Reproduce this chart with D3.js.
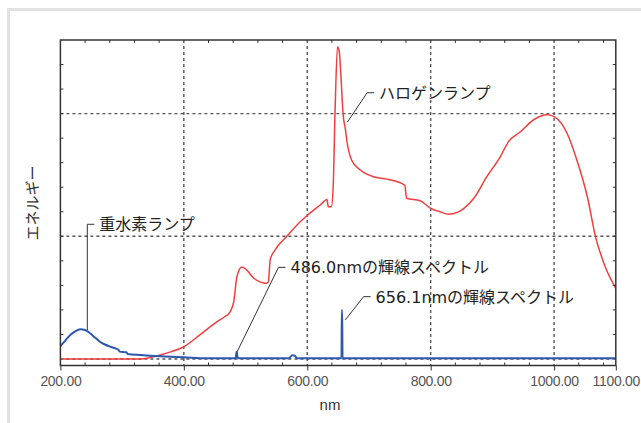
<!DOCTYPE html>
<html>
<head>
<meta charset="utf-8">
<script src="https://cdn.jsdelivr.net/npm/d3@7"></script>
<style>
  body { margin: 0; background: #fff; }
  svg { display: block; }
</style>
</head>
<body>
<div id="chart"></div>
<script>
// halogen lamp spectrum (red)
const halogenNm = [200, 330, 345, 362, 380, 400, 426, 454, 465, 475, 481, 486, 494, 502, 513, 534, 537, 540, 548, 567, 589, 600, 621, 632, 634, 639, 642, 645, 649, 652, 655, 658, 662, 664, 672, 686, 707, 729, 758, 761, 783, 800, 815, 829, 843, 854, 870, 891, 913, 926, 945, 967, 989, 1002, 1021, 1037, 1054, 1067, 1083, 1100];
const halogenEnergy = [0, 0, 0.012, 0.033, 0.06, 0.10, 0.196, 0.304, 0.34, 0.385, 0.47, 0.67, 0.75, 0.725, 0.66, 0.617, 0.63, 0.81, 0.89, 1.0, 1.12, 1.17, 1.255, 1.30, 1.24, 1.24, 1.40, 2.0, 2.545, 2.5, 2.27, 2.0, 1.866, 1.785, 1.62, 1.54, 1.486, 1.466, 1.418, 1.31, 1.29, 1.228, 1.20, 1.18, 1.195, 1.228, 1.31, 1.486, 1.65, 1.77, 1.85, 1.95, 1.99, 1.97, 1.84, 1.62, 1.32, 1.0, 0.75, 0.576];

// deuterium lamp spectrum (blue)
const deuteriumNm = [200, 208, 216, 224, 232, 240, 248, 256, 264, 272, 281, 290, 294, 296, 307, 309, 330, 345, 370, 400, 437, 484, 485.5, 486, 486.5, 488, 570, 576, 580, 584, 655.5, 656, 656.6, 657.2, 1100];
const deuteriumEnergy = [0.106, 0.15, 0.196, 0.225, 0.242, 0.236, 0.21, 0.175, 0.141, 0.118, 0.10, 0.085, 0.075, 0.06, 0.055, 0.04, 0.032, 0.027, 0.02, 0.014, 0.006, 0.006, 0.06, 0.06, 0.03, 0.006, 0.006, 0.03, 0.025, 0.006, 0.006, 0.40, 0.40, 0.006, 0.006];

const xTicks = [200, 400, 600, 800, 1000, 1100];
const xGrid = [400, 600, 800, 1000];
const yGrid = [0, 1, 2];

// annotation labels, leader tip and elbow in data units
const annoText = ["ハロゲンランプ", "重水素ランプ", "486.0nmの輝線スペクトル", "656.1nmの輝線スペクトル"];
const annoTip = [[665, 1.93], [243.6, 0.236], [486.5, 0.06], [661.6, 0.318]];
const annoElbow = [[697, 2.17], [243.6, 1.098], [553.4, 0.747], [691.3, 0.508]];

const width = 641, height = 423;
const plotLeft = 60.4, plotRight = 615.8, plotTop = 40, plotBottom = 365.5;

const svg = d3.select("#chart").append("svg")
  .attr("width", width).attr("height", height)
  .style("font-family", "'DejaVu Sans', 'Noto Sans CJK JP', sans-serif");

// light outer frame
svg.append("rect")
  .attr("x", 8.5).attr("y", 9.5).attr("width", 700).attr("height", 500)
  .attr("fill", "none").attr("stroke", "#e2e2e2").attr("stroke-width", 3);

const x = d3.scaleLinear().domain([200, 1100]).range([plotLeft, plotRight]);
const y = d3.scaleLinear().domain([-0.053, 2.6]).range([plotBottom, plotTop]);

svg.append("clipPath").attr("id", "plot")
  .append("rect").attr("x", plotLeft).attr("y", plotTop)
  .attr("width", plotRight - plotLeft).attr("height", plotBottom - plotTop);

// dashed grid
const grid = svg.append("g").attr("stroke", "#555").attr("stroke-width", 1.4)
  .attr("stroke-dasharray", "3,3");
grid.selectAll(".gx").data(xGrid).enter().append("line")
  .attr("x1", d => x(d)).attr("x2", d => x(d))
  .attr("y1", plotTop).attr("y2", plotBottom);
grid.selectAll(".gy").data(yGrid).enter().append("line")
  .attr("x1", plotLeft).attr("x2", plotRight)
  .attr("y1", d => y(d)).attr("y2", d => y(d));

// curves
const line = d3.line().curve(d3.curveMonotoneX).x(d => x(d[0])).y(d => y(d[1]));
const plot = svg.append("g").attr("clip-path", "url(#plot)");
plot.append("path")
  .datum(d3.zip(halogenNm, halogenEnergy))
  .attr("d", line)
  .attr("fill", "none").attr("stroke", "#f03e3e").attr("stroke-width", 1.5);
plot.append("path")
  .datum(d3.zip(deuteriumNm, deuteriumEnergy))
  .attr("d", line)
  .attr("fill", "none").attr("stroke", "#2c58b0").attr("stroke-width", 2);

// frame
svg.append("rect")
  .attr("x", plotLeft).attr("y", plotTop)
  .attr("width", plotRight - plotLeft).attr("height", plotBottom - plotTop)
  .attr("fill", "none").attr("stroke", "#333").attr("stroke-width", 1.5);

// minor ticks, inward on all sides
const minorX = d3.range(240, 1100, 40).filter(v => xGrid.indexOf(v) < 0);
const minorY = d3.range(0.2, 2.5, 0.2);
const ticks = svg.append("g").attr("stroke", "#333").attr("stroke-width", 1);
minorX.forEach(v => {
  ticks.append("line").attr("x1", x(v)).attr("x2", x(v)).attr("y1", plotTop).attr("y2", plotTop + 3);
  ticks.append("line").attr("x1", x(v)).attr("x2", x(v)).attr("y1", plotBottom).attr("y2", plotBottom - 3);
});
minorY.forEach(v => {
  ticks.append("line").attr("x1", plotLeft).attr("x2", plotLeft + 3).attr("y1", y(v)).attr("y2", y(v));
  ticks.append("line").attr("x1", plotRight).attr("x2", plotRight - 3).attr("y1", y(v)).attr("y2", y(v));
});

// bottom axis with major ticks pointing out
const xAxis = svg.append("g")
  .attr("transform", "translate(0," + plotBottom + ")")
  .call(d3.axisBottom(x).tickValues(xTicks).tickFormat(d3.format(".2f")).tickSize(5).tickPadding(6));
xAxis.select(".domain").remove();
xAxis.selectAll(".tick line").attr("stroke", "#333");
xAxis.selectAll(".tick text")
  .attr("fill", "#555")
  .style("font-size", "14px")
  .style("letter-spacing", "-0.3px")
  .style("font-family", "'Liberation Sans', sans-serif");

// axis titles
svg.append("text")
  .attr("x", 330).attr("y", 410)
  .attr("text-anchor", "middle")
  .attr("fill", "#333")
  .style("font-size", "15px")
  .style("font-family", "'Liberation Sans', sans-serif")
  .text("nm");

svg.append("text")
  .attr("transform", "translate(38,203) rotate(-90)")
  .attr("text-anchor", "middle")
  .attr("fill", "#333")
  .style("font-size", "15px")
  .style("font-family", "'Noto Sans CJK JP', sans-serif")
  .text("エネルギー");

// annotations
const anno = svg.append("g");
annoText.forEach((t, i) => {
  const tx = x(annoTip[i][0]), ty = y(annoTip[i][1]);
  const ex = x(annoElbow[i][0]), ey = y(annoElbow[i][1]);
  anno.append("polyline")
    .attr("points", [[tx, ty], [ex, ey], [ex + 7, ey]].map(p => p.join(",")).join(" "))
    .attr("fill", "none").attr("stroke", "#333").attr("stroke-width", 1);
  anno.append("text")
    .attr("x", ex + 12).attr("y", ey + 6)
    .attr("fill", "#222")
    .style("font-size", "16px")
    .text(t);
});
</script>
</body>
</html>
